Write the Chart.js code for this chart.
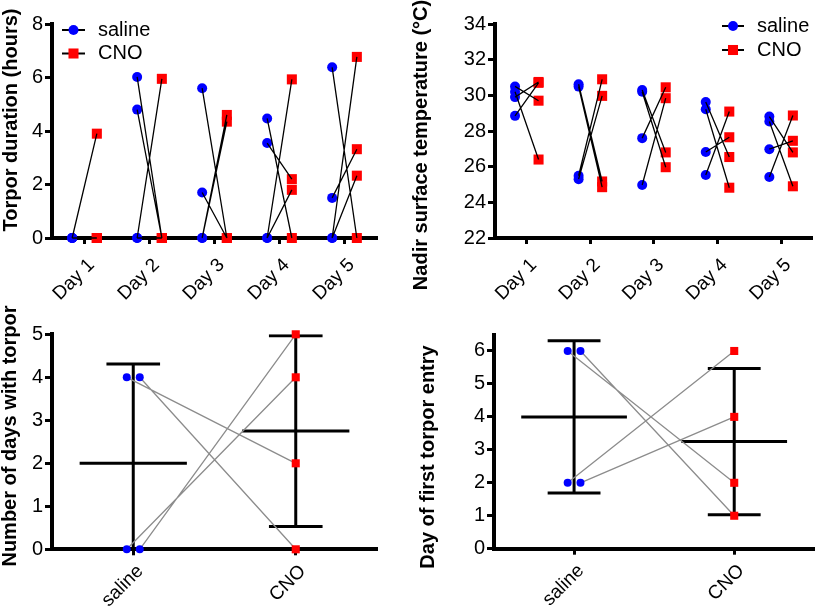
<!DOCTYPE html>
<html>
<head>
<meta charset="utf-8">
<script src="https://cdn.jsdelivr.net/npm/chart.js@4.4.0/dist/chart.umd.min.js"></script>
<style>
  html, body { margin: 0; padding: 0; background: #fff; }
  #fig { position: relative; width: 820px; height: 608px; overflow: hidden; }
  .panel { position: absolute; }
  .panel canvas { display: block; }
</style>
</head>
<body>
<div id="fig">
  <div class="panel" style="left:0;top:0"><canvas id="torpor" width="410" height="300"></canvas></div>
  <div class="panel" style="left:410px;top:0"><canvas id="nadir" width="410" height="300"></canvas></div>
  <div class="panel" style="left:0;top:300px"><canvas id="days" width="410" height="308"></canvas></div>
  <div class="panel" style="left:410px;top:300px"><canvas id="first" width="410" height="308"></canvas></div>
</div>
<script>
const FONT = "'Liberation Sans', Arial, Helvetica, sans-serif";
const BLUE = '#0000ff';
const RED = '#ff0000';

const DAYS = [1, 2, 3, 4, 5];
const DAY_LABELS = ['Day 1', 'Day 2', 'Day 3', 'Day 4', 'Day 5'];
const GROUPS = [1, 2];
const GROUP_LABELS = ['saline', 'CNO'];

// torpor duration (hours): one row per day, one column per animal (saline/CNO paired)
const torporSaline = [
  [0, 0, 0, 0],
  [6.02, 4.8, 0, 0],
  [5.6, 1.7, 0, 0],
  [4.47, 3.55, 0, 0],
  [6.38, 1.5, 0, 0],
];
const torporCNO = [
  [3.9, 0, 0, 0],
  [0, 0, 5.95, 0],
  [0, 0, 4.6, 4.35],
  [0, 2.2, 5.93, 1.8],
  [0, 3.32, 6.77, 2.33],
];

// nadir surface temperature (°C)
const tempSaline = [
  [30.5, 30.2, 29.9, 28.85],
  [30.62, 30.49, 25.49, 25.3],
  [30.3, 30.2, 27.6, 24.97],
  [29.62, 29.22, 26.82, 25.53],
  [28.81, 28.53, 26.98, 25.42],
];
const tempCNO = [
  [29.7, 26.4, 30.75, 30.7],
  [25.17, 24.85, 30.9, 29.97],
  [26.8, 25.97, 30.45, 29.84],
  [26.54, 24.82, 27.65, 29.09],
  [26.8, 24.9, 27.45, 28.87],
];

// per animal
const daysSaline = [4, 4, 0, 0];
const daysCNO = [2, 0, 4, 5];
const firstSaline = [6, 6, 2, 2];
const firstCNO = [2, 1, 6, 4];

Chart.defaults.font.family = FONT;
Chart.defaults.color = '#000';

// rotated y-axis title at a fixed spot
const sideTitle = {
  id: 'sideTitle',
  afterDraw(chart, _args, opts) {
    const ctx = chart.ctx;
    ctx.save();
    ctx.translate(opts.x, opts.y);
    ctx.rotate(-Math.PI / 2);
    ctx.font = 'bold 20px ' + FONT;
    ctx.fillStyle = '#000';
    ctx.textAlign = 'center';
    ctx.textBaseline = 'middle';
    ctx.fillText(opts.text, 0, 0);
    ctx.restore();
  }
};

// legend entries drawn as line-marker-line like the original
const pairLegend = {
  id: 'pairLegend',
  afterDraw(chart, _args, opts) {
    const ctx = chart.ctx;
    const items = chart.data.datasets.filter(ds => ds.label);
    items.forEach((ds, i) => {
      const y = opts.y + i * opts.gap;
      const cx = opts.x + opts.lineLength / 2;
      ctx.save();
      ctx.strokeStyle = '#000';
      ctx.lineWidth = 2;
      ctx.beginPath();
      ctx.moveTo(opts.x, y);
      ctx.lineTo(opts.x + opts.lineLength, y);
      ctx.stroke();
      ctx.fillStyle = ds.backgroundColor;
      if (ds.pointStyle === 'rect') {
        const s = ds.pointRadius * Math.SQRT2;
        ctx.fillRect(cx - s / 2, y - s / 2, s, s);
      } else {
        ctx.beginPath();
        ctx.arc(cx, y, ds.pointRadius, 0, Math.PI * 2);
        ctx.fill();
      }
      ctx.fillStyle = '#000';
      ctx.font = '20px ' + FONT;
      ctx.textBaseline = 'middle';
      ctx.fillText(ds.label, opts.x + opts.textGap, y);
      ctx.restore();
    });
  }
};

function dayPoints(rows, shift) {
  const pts = [];
  rows.forEach((row, d) => row.forEach(v => pts.push({ x: DAYS[d] + shift, y: v })));
  return pts;
}

function dayPairs(sal, cno, shift) {
  const pts = [];
  sal.forEach((row, d) => row.forEach((v, a) => {
    pts.push({ x: DAYS[d] - shift, y: v }, { x: DAYS[d] + shift, y: cno[d][a] }, { x: DAYS[d], y: null });
  }));
  return pts;
}

// saline dots sit in two little columns, CNO in one
function groupPoints(vals, g, jitter) {
  return vals.map((v, i) => ({ x: GROUPS[g] + (jitter ? (i % 2 ? jitter : -jitter) : 0), y: v }));
}

function groupPairs(sal, cno, jitter) {
  const pts = [];
  sal.forEach((v, i) => {
    pts.push({ x: GROUPS[0] + (i % 2 ? jitter : -jitter), y: v }, { x: GROUPS[1], y: cno[i] }, { x: 1.5, y: null });
  });
  return pts;
}

function meanSD(vals) {
  const m = vals.reduce((a, b) => a + b, 0) / vals.length;
  const sd = Math.sqrt(vals.reduce((a, v) => a + (v - m) ** 2, 0) / (vals.length - 1));
  return [m, sd];
}

function errorBar(x, vals) {
  const [m, sd] = meanSD(vals);
  const hw = 0.33, cw = 0.165;
  return [
    { x: x - hw, y: m }, { x: x + hw, y: m }, { x, y: null },
    { x, y: m - sd }, { x, y: m + sd }, { x, y: null },
    { x: x - cw, y: m + sd }, { x: x + cw, y: m + sd }, { x, y: null },
    { x: x - cw, y: m - sd }, { x: x + cw, y: m - sd },
  ];
}

function markers(label, data, color, style, radius) {
  return {
    label, data, showLine: false, clip: false,
    pointStyle: style, pointRadius: radius, pointBorderWidth: 0,
    backgroundColor: color, pointBackgroundColor: color, borderColor: color,
  };
}

function lines(data, color, width, clip) {
  return { data, borderColor: color, borderWidth: width, pointRadius: 0, clip };
}

function options(p) {
  const axisGrid = len => ({ drawOnChartArea: false, tickLength: len, tickWidth: 3, tickColor: '#000' });
  return {
    responsive: false,
    animation: false,
    events: [],
    layout: { padding: { left: 0, top: p.top, right: p.right, bottom: 0 } },
    plugins: {
      legend: { display: false },
      tooltip: { enabled: false },
      sideTitle: p.title,
      pairLegend: p.legend || false,
    },
    scales: {
      x: {
        type: 'linear',
        bounds: 'data',
        min: p.xMin,
        max: p.xMax,
        afterBuildTicks: axis => { axis.ticks = p.xTicks.map(value => ({ value })); },
        afterFit: axis => { axis.height = p.xHeight; },
        grid: axisGrid(6),
        border: { color: '#000', width: 4 },
        ticks: {
          autoSkip: false, minRotation: 45, maxRotation: 45, padding: p.xPad, labelOffset: 7,
          font: { size: 19 },
          callback: (v, i) => p.xLabels[i],
        },
      },
      y: {
        type: 'linear',
        bounds: 'data',
        min: p.yMin,
        max: p.yMax,
        afterFit: axis => { axis.width = p.left; },
        grid: axisGrid(7),
        border: { color: '#000', width: 4 },
        ticks: { stepSize: p.yStep, includeBounds: false, padding: 2, font: { size: 20 } },
      },
    },
  };
}

const SHIFT = 0.19;

new Chart(document.getElementById('torpor'), {
  type: 'line',
  data: {
    datasets: [
      lines(dayPairs(torporSaline, torporCNO, SHIFT), '#000', 1.3, false),
      markers('saline', dayPoints(torporSaline, -SHIFT), BLUE, 'circle', 5),
      markers('CNO', dayPoints(torporCNO, SHIFT), RED, 'rect', 7.1),
    ],
  },
  options: options({
    top: 24, right: 33, left: 52, xHeight: 62, xPad: 10,
    xMin: 0.5, xMax: 5.5, xTicks: DAYS, xLabels: DAY_LABELS,
    yMin: 0, yMax: 8, yStep: 2,
    title: { text: 'Torpor duration (hours)', x: 11, y: 120 },
    legend: { x: 62, y: 30, gap: 23.5, lineLength: 23, textGap: 36 },
  }),
  plugins: [sideTitle, pairLegend],
});

new Chart(document.getElementById('nadir'), {
  type: 'line',
  data: {
    datasets: [
      lines(dayPairs(tempSaline, tempCNO, 0.185), '#000', 1.3, false),
      markers('saline', dayPoints(tempSaline, -0.185), BLUE, 'circle', 5),
      markers('CNO', dayPoints(tempCNO, 0.185), RED, 'rect', 7.1),
    ],
  },
  options: options({
    top: 24, right: 2, left: 85, xHeight: 62, xPad: 10,
    xMin: 0.5, xMax: 5.5, xTicks: DAYS, xLabels: DAY_LABELS,
    yMin: 22, yMax: 34, yStep: 2,
    title: { text: 'Nadir surface temperature (°C)', x: 11, y: 145 },
    legend: { x: 312, y: 26, gap: 24, lineLength: 22, textGap: 35 },
  }),
  plugins: [sideTitle, pairLegend],
});

new Chart(document.getElementById('days'), {
  type: 'line',
  data: {
    datasets: [
      markers('saline', groupPoints(daysSaline, 0, 0.04), BLUE, 'circle', 4),
      markers('CNO', groupPoints(daysCNO, 1, 0), RED, 'rect', 5.7),
      lines(groupPairs(daysSaline, daysCNO, 0.04), '#8c8c8c', 1.3, false),
      lines(errorBar(GROUPS[0], daysSaline).concat([{ x: 1.5, y: null }], errorBar(GROUPS[1], daysCNO)), '#000', 3, 0),
    ],
  },
  options: options({
    top: 34.3, right: 33, left: 52, xHeight: 58.7, xPad: 5,
    xMin: 0.5, xMax: 2.5, xTicks: GROUPS, xLabels: GROUP_LABELS,
    yMin: 0, yMax: 5, yStep: 1,
    title: { text: 'Number of days with torpor', x: 10, y: 136 },
  }),
  plugins: [sideTitle],
});

new Chart(document.getElementById('first'), {
  type: 'line',
  data: {
    datasets: [
      markers('saline', groupPoints(firstSaline, 0, 0.04), BLUE, 'circle', 4),
      markers('CNO', groupPoints(firstCNO, 1, 0), RED, 'rect', 5.7),
      lines(groupPairs(firstSaline, firstCNO, 0.04), '#8c8c8c', 1.3, false),
      lines(errorBar(GROUPS[0], firstSaline).concat([{ x: 1.5, y: null }], errorBar(GROUPS[1], firstCNO)), '#000', 3, 0),
    ],
  },
  options: options({
    top: 34.5, right: 2, left: 84, xHeight: 59.3, xPad: 5,
    xMin: 0.5, xMax: 2.5, xTicks: GROUPS, xLabels: GROUP_LABELS,
    yMin: 0, yMax: 6.5, yStep: 1,
    title: { text: 'Day of first torpor entry', x: 18.5, y: 157 },
  }),
  plugins: [sideTitle],
});
</script>
</body>
</html>
